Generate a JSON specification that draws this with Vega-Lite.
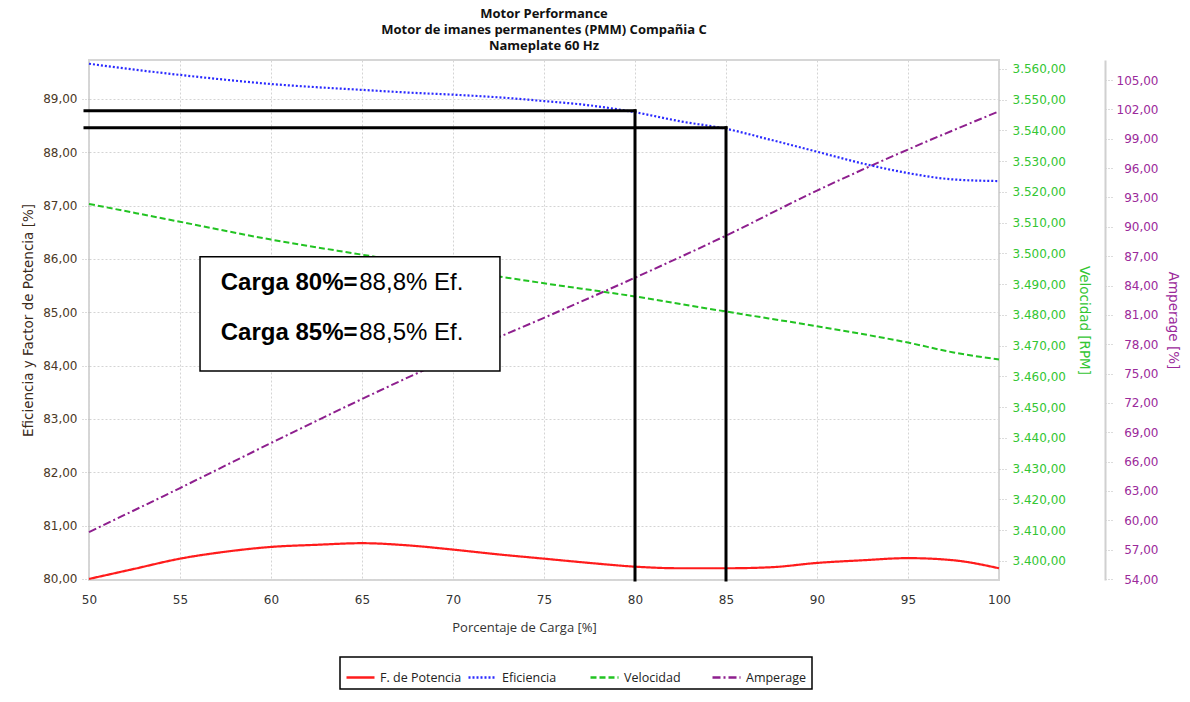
{
  "$schema": "https://vega.github.io/schema/vega-lite/v6.json",
  "width": 910,
  "height": 520,
  "autosize": {"type": "none"},
  "padding": {"left": 89, "top": 60, "right": 191, "bottom": 122},
  "background": "white",
  "title": {
    "text": ["Motor Performance", "Motor de imanes permanentes (PMM) Compañia C", "Nameplate 60 Hz"],
    "font": "Open Sans",
    "fontSize": 13,
    "fontWeight": "bold",
    "color": "#111",
    "lineHeight": 16,
    "anchor": "middle",
    "offset": 6
  },
  "datasets": {
    "series": [
      {"carga": 50, "serie": "F. de Potencia", "valor": 80.00},
      {"carga": 52.5, "serie": "F. de Potencia", "valor": 80.19},
      {"carga": 55, "serie": "F. de Potencia", "valor": 80.38},
      {"carga": 57.5, "serie": "F. de Potencia", "valor": 80.51},
      {"carga": 60, "serie": "F. de Potencia", "valor": 80.60},
      {"carga": 62.5, "serie": "F. de Potencia", "valor": 80.64},
      {"carga": 65, "serie": "F. de Potencia", "valor": 80.67},
      {"carga": 67.5, "serie": "F. de Potencia", "valor": 80.63},
      {"carga": 70, "serie": "F. de Potencia", "valor": 80.55},
      {"carga": 72.5, "serie": "F. de Potencia", "valor": 80.46},
      {"carga": 75, "serie": "F. de Potencia", "valor": 80.38},
      {"carga": 77.5, "serie": "F. de Potencia", "valor": 80.30},
      {"carga": 80, "serie": "F. de Potencia", "valor": 80.23},
      {"carga": 82.5, "serie": "F. de Potencia", "valor": 80.20},
      {"carga": 85, "serie": "F. de Potencia", "valor": 80.20},
      {"carga": 87.5, "serie": "F. de Potencia", "valor": 80.22},
      {"carga": 90, "serie": "F. de Potencia", "valor": 80.30},
      {"carga": 92.5, "serie": "F. de Potencia", "valor": 80.35},
      {"carga": 95, "serie": "F. de Potencia", "valor": 80.39},
      {"carga": 97.5, "serie": "F. de Potencia", "valor": 80.35},
      {"carga": 100, "serie": "F. de Potencia", "valor": 80.20},
      {"carga": 50, "serie": "Eficiencia", "valor": 89.66},
      {"carga": 52.5, "serie": "Eficiencia", "valor": 89.55},
      {"carga": 55, "serie": "Eficiencia", "valor": 89.45},
      {"carga": 57.5, "serie": "Eficiencia", "valor": 89.36},
      {"carga": 60, "serie": "Eficiencia", "valor": 89.28},
      {"carga": 62.5, "serie": "Eficiencia", "valor": 89.22},
      {"carga": 65, "serie": "Eficiencia", "valor": 89.17},
      {"carga": 67.5, "serie": "Eficiencia", "valor": 89.12},
      {"carga": 70, "serie": "Eficiencia", "valor": 89.08},
      {"carga": 72.5, "serie": "Eficiencia", "valor": 89.03},
      {"carga": 75, "serie": "Eficiencia", "valor": 88.96},
      {"carga": 77.5, "serie": "Eficiencia", "valor": 88.88},
      {"carga": 80, "serie": "Eficiencia", "valor": 88.75},
      {"carga": 82.5, "serie": "Eficiencia", "valor": 88.58},
      {"carga": 85, "serie": "Eficiencia", "valor": 88.44},
      {"carga": 87.5, "serie": "Eficiencia", "valor": 88.23},
      {"carga": 90, "serie": "Eficiencia", "valor": 88.01},
      {"carga": 92.5, "serie": "Eficiencia", "valor": 87.79},
      {"carga": 95, "serie": "Eficiencia", "valor": 87.61},
      {"carga": 97.5, "serie": "Eficiencia", "valor": 87.49},
      {"carga": 100, "serie": "Eficiencia", "valor": 87.46},
      {"carga": 50, "serie": "Velocidad", "valor": 3516.1},
      {"carga": 55, "serie": "Velocidad", "valor": 3510.3},
      {"carga": 60, "serie": "Velocidad", "valor": 3504.5},
      {"carga": 65, "serie": "Velocidad", "valor": 3499.6},
      {"carga": 70, "serie": "Velocidad", "valor": 3494.8},
      {"carga": 75, "serie": "Velocidad", "valor": 3490.3},
      {"carga": 80, "serie": "Velocidad", "valor": 3486.0},
      {"carga": 85, "serie": "Velocidad", "valor": 3481.1},
      {"carga": 90, "serie": "Velocidad", "valor": 3476.3},
      {"carga": 95, "serie": "Velocidad", "valor": 3471.0},
      {"carga": 97.5, "serie": "Velocidad", "valor": 3467.8},
      {"carga": 100, "serie": "Velocidad", "valor": 3465.5},
      {"carga": 50, "serie": "Amperage", "valor": 58.8},
      {"carga": 55, "serie": "Amperage", "valor": 63.3},
      {"carga": 60, "serie": "Amperage", "valor": 67.9},
      {"carga": 65, "serie": "Amperage", "valor": 72.4},
      {"carga": 70, "serie": "Amperage", "valor": 76.7},
      {"carga": 75, "serie": "Amperage", "valor": 80.7},
      {"carga": 80, "serie": "Amperage", "valor": 84.8},
      {"carga": 85, "serie": "Amperage", "valor": 89.1},
      {"carga": 90, "serie": "Amperage", "valor": 93.7},
      {"carga": 95, "serie": "Amperage", "valor": 97.9},
      {"carga": 100, "serie": "Amperage", "valor": 101.8}
    ],
    "marcas": [
      {"x1": 49.78, "x2": 80, "y1": 88.78, "y2": 88.78},
      {"x1": 80, "x2": 80, "y1": 88.78, "y2": 79.98},
      {"x1": 49.78, "x2": 85, "y1": 88.46, "y2": 88.46},
      {"x1": 85, "x2": 85, "y1": 88.46, "y2": 79.98}
    ],
    "caja": [{"x1": 56.1, "x2": 72.58, "y1": 86.04, "y2": 83.9}],
    "negrita": [
      {"x": 57.24, "y": 85.55, "t": "Carga 80%="},
      {"x": 57.24, "y": 84.61, "t": "Carga 85%="}
    ],
    "normal": [
      {"x": 64.85, "y": 85.55, "t": "88,8% Ef."},
      {"x": 64.85, "y": 84.61, "t": "88,5% Ef."}
    ]
  },
  "layer": [
    {
      "data": {"name": "series"},
      "transform": [{"filter": "datum.serie === 'Velocidad'"}],
      "mark": {"type": "line", "strokeWidth": 2, "interpolate": "monotone"},
      "encoding": {
        "x": {
          "field": "carga", "type": "quantitative",
          "scale": {"domain": [50, 100], "nice": false, "zero": false},
          "axis": {
            "values": [50, 55, 60, 65, 70, 75, 80, 85, 90, 95, 100],
            "title": "Porcentaje de Carga [%]",
            "titleX": 435, "titleY": 47, "titleBaseline": "middle", "titleAlign": "center"
          }
        },
        "y": {
          "field": "valor", "type": "quantitative",
          "scale": {"domain": [3393.8, 3562.9], "nice": false, "zero": false},
          "axis": {
            "orient": "right",
            "values": [3400, 3410, 3420, 3430, 3440, 3450, 3460, 3470, 3480, 3490, 3500, 3510, 3520, 3530, 3540, 3550, 3560],
            "format": ",.2f",
            "grid": false,
            "domain": false,
            "labelColor": "#33c633",
            "labelPadding": 5,
            "title": "Velocidad [RPM]",
            "titleColor": "#33c633",
            "titleAngle": 90,
            "titlePadding": 11
          }
        },
        "color": {
          "field": "serie", "type": "nominal",
          "scale": {"domain": ["F. de Potencia", "Eficiencia", "Velocidad", "Amperage"], "range": ["#ff1c1c", "#2a2aff", "#22c322", "#8e1f8e"]},
          "legend": {"title": null}
        },
        "strokeDash": {
          "field": "serie", "type": "nominal",
          "scale": {"domain": ["F. de Potencia", "Eficiencia", "Velocidad", "Amperage"], "range": [[1, 0], [2, 2], [6, 3], [8, 3, 2, 3]]},
          "legend": {"title": null}
        }
      }
    },
    {
      "data": {"name": "series"},
      "transform": [{"filter": "datum.serie === 'Amperage'"}],
      "mark": {"type": "line", "strokeWidth": 2, "interpolate": "monotone"},
      "encoding": {
        "x": {"field": "carga", "type": "quantitative"},
        "y": {
          "field": "valor", "type": "quantitative",
          "scale": {"domain": [53.9, 107.05], "nice": false, "zero": false},
          "axis": {
            "orient": "right",
            "offset": 106,
            "values": [54, 57, 60, 63, 66, 69, 72, 75, 78, 81, 84, 87, 90, 93, 96, 99, 102, 105],
            "format": ",.2f",
            "grid": false,
            "domain": true,
            "domainColor": "#d0d0d0",
            "domainWidth": 2,
            "labelColor": "#9b2a9b",
            "labelAlign": "right",
            "labelPadding": 45,
            "title": "Amperage  [%]",
            "titleColor": "#9b2a9b",
            "titleAngle": 90,
            "titlePadding": 7
          }
        },
        "color": {"field": "serie", "type": "nominal"},
        "strokeDash": {"field": "serie", "type": "nominal"}
      }
    },
    {
      "layer": [
        {
          "data": {"name": "series"},
          "transform": [{"filter": "datum.serie === 'F. de Potencia' || datum.serie === 'Eficiencia'"}],
          "mark": {"type": "line", "strokeWidth": 2.2, "interpolate": "monotone"},
          "encoding": {
            "x": {"field": "carga", "type": "quantitative"},
            "y": {
              "field": "valor", "type": "quantitative",
              "scale": {"domain": [79.98, 89.73], "nice": false, "zero": false},
              "axis": {
                "orient": "left",
                "values": [80, 81, 82, 83, 84, 85, 86, 87, 88, 89],
                "format": ",.2f",
                "grid": true,
                "domain": false,
                "labelColor": "#4a3826",
                "title": "Eficiencia y Factor de Potencia  [%]",
                "titleColor": "#3a2a1a",
                "titlePadding": 7
              }
            },
            "color": {"field": "serie", "type": "nominal"},
            "strokeDash": {"field": "serie", "type": "nominal"}
          }
        },
        {
          "data": {"name": "marcas"},
          "mark": {"type": "rule", "color": "#000", "strokeWidth": 3, "strokeCap": "square"},
          "encoding": {
            "x": {"field": "x1", "type": "quantitative"},
            "x2": {"field": "x2"},
            "y": {"field": "y1", "type": "quantitative"},
            "y2": {"field": "y2"}
          }
        },
        {
          "data": {"name": "caja"},
          "mark": {"type": "rect", "fill": "white", "stroke": "#000", "strokeWidth": 1.5},
          "encoding": {
            "x": {"field": "x1", "type": "quantitative"},
            "x2": {"field": "x2"},
            "y": {"field": "y1", "type": "quantitative"},
            "y2": {"field": "y2"}
          }
        },
        {
          "data": {"name": "negrita"},
          "mark": {"type": "text", "font": "Liberation Sans", "fontSize": 24, "fontWeight": "bold", "align": "left", "baseline": "middle", "color": "#000"},
          "encoding": {
            "x": {"field": "x", "type": "quantitative"},
            "y": {"field": "y", "type": "quantitative"},
            "text": {"field": "t"}
          }
        },
        {
          "data": {"name": "normal"},
          "mark": {"type": "text", "font": "Liberation Sans", "fontSize": 24, "fontWeight": "normal", "align": "left", "baseline": "middle", "color": "#000"},
          "encoding": {
            "x": {"field": "x", "type": "quantitative"},
            "y": {"field": "y", "type": "quantitative"},
            "text": {"field": "t"}
          }
        }
      ]
    }
  ],
  "resolve": {"scale": {"y": "independent"}, "axis": {"y": "independent"}},
  "config": {
    "locale": {"number": {"decimal": ",", "thousands": ".", "grouping": [3], "currency": ["", ""]}},
    "view": {"stroke": "#d6d6d6", "strokeWidth": 2},
    "axis": {
      "labelFont": "DejaVu Sans",
      "labelFontSize": 12,
      "labelColor": "#333",
      "titleFont": "DejaVu Sans",
      "titleFontSize": 13.5,
      "titleFontWeight": "normal",
      "titleColor": "#333",
      "tickSize": 8,
      "tickColor": "#b8b8b8",
      "tickDash": [1, 2],
      "labelPadding": 4,
      "gridColor": "#d4d4d4",
      "gridDash": [2, 2],
      "gridWidth": 1
    },
    "axisX": {
      "grid": true,
      "domain": false,
      "ticks": false,
      "labelPadding": 14,
      "labelFlush": false,
      "labelColor": "#333",
      "titleFont": "Open Sans",
      "titleFontSize": 13
    },
    "legend": {
      "orient": "none",
      "legendX": 251,
      "legendY": 597,
      "direction": "horizontal",
      "columns": 4,
      "strokeColor": "#000",
      "strokeWidth": 1.5,
      "padding": 5,
      "symbolType": "stroke",
      "symbolSize": 784,
      "symbolStrokeWidth": 2.5,
      "labelFont": "Open Sans",
      "labelFontSize": 12.5,
      "labelColor": "#222",
      "labelOffset": 4,
      "columnPadding": 1,
      "gridAlign": "all",
      "fillColor": "white"
    }
  }
}
